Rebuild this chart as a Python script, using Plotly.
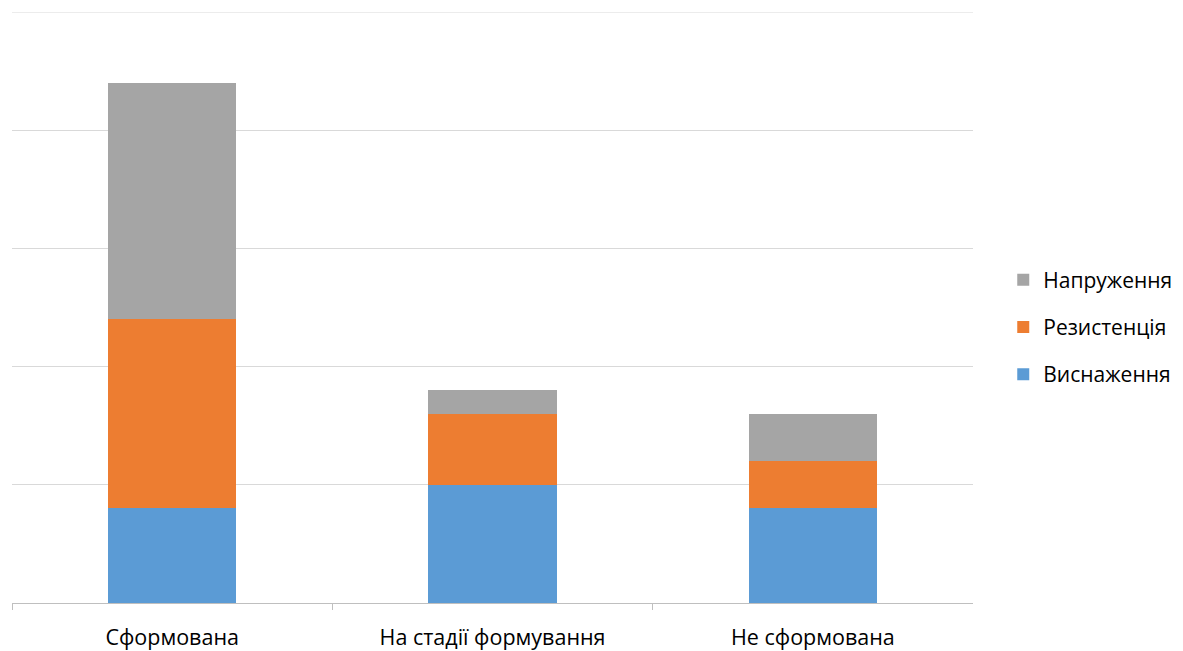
import plotly.graph_objects as go

categories = ["Сформована", "На стадії формування", "Не сформована"]
vysnazhennia = [4, 5, 4]
rezystentsiia = [8, 3, 2]
napruzhennia = [10, 1, 2]

# (name, values, colour, position in legend)
series = [
    ("Виснаження", vysnazhennia, "#5B9BD5", 3),
    ("Резистенція", rezystentsiia, "#ED7D31", 2),
    ("Напруження", napruzhennia, "#A5A5A5", 1),
]

fig = go.Figure()
for name, values, color, rank in series:
    fig.add_trace(go.Bar(
        x=categories, y=values, name=name, legendgroup=name, legendrank=rank,
        marker=dict(color=color, line=dict(width=0)),
    ))

y_top = 25
grid_color = "#D9D9D9"

font_family = "'Open Sans', 'Noto Sans', sans-serif"
fig.update_layout(
    barmode="stack",
    bargap=0.6,
    width=1183, height=651,
    margin=dict(l=12, r=0, t=12, b=48),
    paper_bgcolor="white", plot_bgcolor="white",
    font=dict(family=font_family, size=21.5, color="#000000"),
    legend=dict(
        traceorder="grouped", tracegroupgap=17,
        x=0.8465, xanchor="left", y=0.467, yanchor="middle",
        font=dict(size=21), itemwidth=30,
    ),
    xaxis=dict(
        domain=[0, 0.8207],
        tickson="boundaries", ticks="outside", ticklen=6, tickcolor="#BFBFBF",
        showline=True, linecolor="#BFBFBF", linewidth=1,
        showgrid=False, ticklabelstandoff=15, automargin=False,
    ),
    yaxis=dict(
        range=[0, y_top], dtick=5, showticklabels=False,
        showgrid=True, gridcolor=grid_color, gridwidth=1, zeroline=False,
        automargin=False,
    ),
    shapes=[dict(
        type="line", xref="x domain", yref="y", x0=0, x1=1, y0=y_top, y1=y_top,
        line=dict(color=grid_color, width=1), layer="below",
    )],
)

fig.write_html("out.html")
